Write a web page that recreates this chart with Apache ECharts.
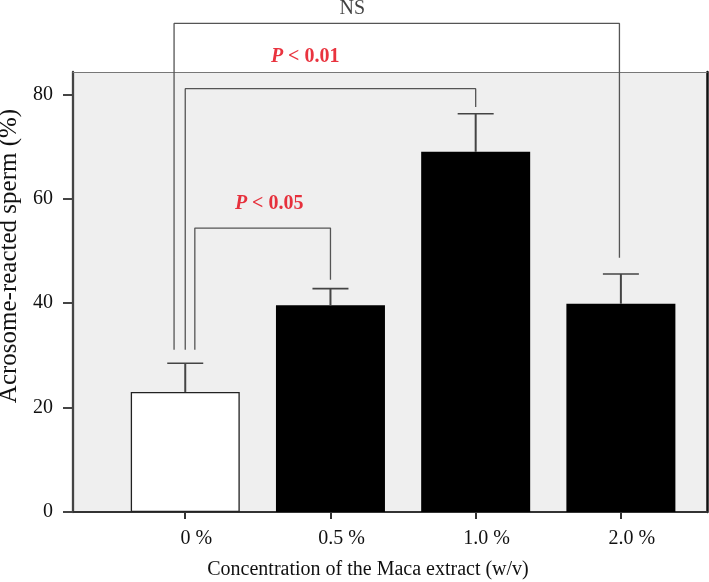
<!DOCTYPE html>
<html>
<head>
<meta charset="utf-8">
<script src="https://cdn.jsdelivr.net/npm/echarts@6/dist/echarts.min.js"></script>
<style>
html, body { margin: 0; padding: 0; background: #fff; }
#chart { width: 709px; height: 582px; }
</style>
</head>
<body>
<div id="chart"></div>
<script>
// 数据
const categories = ['0 %', '0.5 %', '1.0 %', '2.0 %']
const means = [23.0, 39.6, 69.0, 39.9]
const errUpper = [28.5, 42.8, 76.3, 45.6]
const yTicks = [0, 20, 40, 60, 80]

// significance brackets, points in data units
const bracketNS = [[-0.077, 31.1], [-0.077, 93.6], [2.99, 93.6], [2.99, 48.7]]
const bracket001 = [[0, 31.1], [0, 81.1], [2.0, 81.1], [2.0, 77.6]]
const bracket005 = [[0.066, 31.1], [0.066, 54.4], [1.0, 54.4], [1.0, 44.5]]

const noteTexts = ['NS', '0.01', '0.05']
const notePos = [[1.15, 96.4], [0.826, 87.3], [0.578, 59.1]]

const FONT = 'Liberation Serif'
const RED = '#e3000f'
const X_MIN = -0.773
const X_MAX = 3.593
const Y_MAX = 84.3

const chart = echarts.init(document.getElementById('chart'))

const bracketSeries = [bracketNS, bracket001, bracket005].map(pts => ({
  type: 'line',
  data: pts,
  symbol: 'none',
  clip: false,
  silent: true,
  lineStyle: { color: '#555', width: 1.3 },
  z: 5
}))

const option = {
  animation: false,
  grid: {
    left: 73, right: 2, top: 72, bottom: 70,
    outerBoundsMode: 'none',
    containLabel: false,
    show: true,
    backgroundColor: '#efefef',
    borderWidth: 0
  },
  xAxis: [
    {
      type: 'value',
      min: X_MIN,
      max: X_MAX,
      name: 'Concentration of the Maca extract (w/v)',
      nameLocation: 'middle',
      nameGap: 48,
      nameTextStyle: { fontFamily: FONT, fontSize: 20, color: '#111', padding: [0, 44, 0, 0] },
      splitLine: { show: false },
      axisLine: { onZero: false, lineStyle: { color: '#333', width: 2 } },
      axisTick: { customValues: [0, 1, 2, 3], length: 7, lineStyle: { color: '#333', width: 2 } },
      axisLabel: {
        customValues: [0, 1, 2, 3],
        formatter: v => categories[Math.round(v)],
        fontFamily: FONT, fontSize: 20, color: '#111',
        margin: 17,
        padding: [0, 0, 0, 22]
      }
    },
    {
      type: 'value',
      position: 'top',
      min: X_MIN,
      max: X_MAX,
      splitLine: { show: false },
      axisLine: { onZero: false, lineStyle: { color: '#777', width: 1.2 } },
      axisTick: { show: false },
      axisLabel: { show: false }
    }
  ],
  yAxis: [
    {
      type: 'value',
      min: 0,
      max: Y_MAX,
      name: 'Acrosome-reacted sperm (%)',
      nameLocation: 'middle',
      nameGap: 51,
      nameTextStyle: { fontFamily: FONT, fontSize: 25, color: '#111', padding: [0, 0, 0, 72] },
      splitLine: { show: false },
      axisLine: { show: true, onZero: false, lineStyle: { color: '#444', width: 2.3 } },
      axisTick: { customValues: yTicks, length: 10, lineStyle: { color: '#444', width: 2 } },
      axisLabel: {
        customValues: yTicks,
        fontFamily: FONT, fontSize: 20, color: '#111',
        margin: 20
      }
    },
    {
      type: 'value',
      position: 'right',
      min: 0,
      max: Y_MAX,
      splitLine: { show: false },
      axisLine: { show: true, onZero: false, lineStyle: { color: '#111', width: 2.5 } },
      axisTick: { show: false },
      axisLabel: { show: false }
    }
  ],
  series: [
    {
      type: 'bar',
      barWidth: 109,
      data: means.map((v, i) => ({
        value: [i, v],
        itemStyle: i === 0
          ? { color: '#fff', borderColor: '#222', borderWidth: 1.3 }
          : { color: '#000' }
      })),
      z: 2
    },
    {
      // 误差线
      type: 'custom',
      data: means.map((v, i) => [i, v, errUpper[i]]),
      renderItem: (params, api) => {
        const base = api.coord([api.value(0), api.value(1)])
        const top = api.coord([api.value(0), api.value(2)])
        const half = 18
        return {
          type: 'group',
          children: [
            { type: 'line', shape: { x1: base[0], y1: base[1], x2: top[0], y2: top[1] }, style: { stroke: '#444', lineWidth: 2 } },
            { type: 'line', shape: { x1: top[0] - half, y1: top[1], x2: top[0] + half, y2: top[1] }, style: { stroke: '#444', lineWidth: 1.6 } }
          ]
        }
      },
      z: 3
    },
    ...bracketSeries,
    {
      type: 'scatter',
      symbolSize: 0,
      clip: false,
      silent: true,
      data: notePos.map((c, i) => ({ value: c, name: noteTexts[i] })),
      label: {
        show: true,
        position: 'inside',
        formatter: p => p.name === 'NS' ? '{ns|NS}' : '{p|P}{t| < ' + p.name + '}',
        rich: {
          ns: { fontFamily: FONT, fontSize: 20, color: '#111' },
          p: { fontFamily: FONT, fontSize: 20, fontWeight: 'bold', fontStyle: 'italic', color: RED },
          t: { fontFamily: FONT, fontSize: 20, fontWeight: 'bold', color: RED }
        }
      },
      z: 6
    }
  ]
}

chart.setOption(option)
</script>
</body>
</html>
